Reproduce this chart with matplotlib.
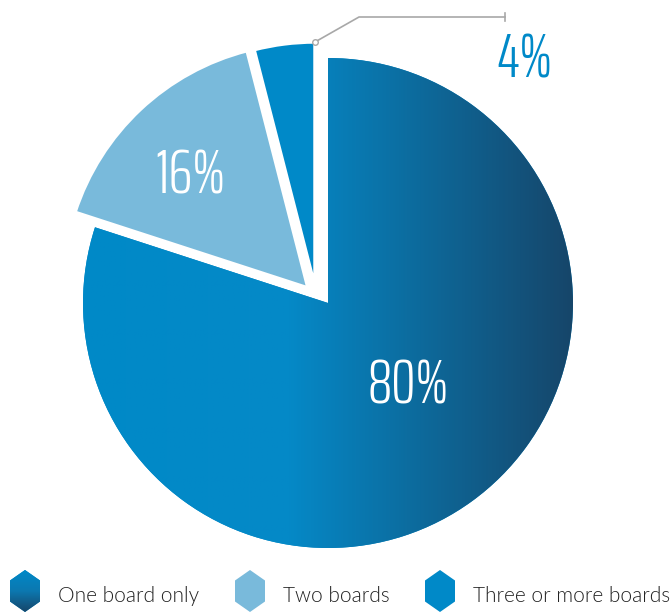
import numpy as np
import matplotlib
matplotlib.use('Agg')
import matplotlib.pyplot as plt
from matplotlib.colors import LinearSegmentedColormap
from matplotlib.patches import Polygon

# data
categories = ['One board only', 'Two boards', 'Three or more boards']
shares = [80, 16, 4]
labels = ['80%', '16%', '4%']
colors = ['#0089c8', '#79badb', '#0089c8']

W, H = 672, 612
fig = plt.figure(figsize=(W / 100, H / 100), dpi=100)
ax = fig.add_axes([0, 0, 1, 1])

cx, cy, R = 328, 309, 245
wedges, _ = ax.pie(shares, startangle=90, counterclock=False, colors=colors,
                   radius=R, center=(cx, cy),
                   wedgeprops=dict(edgecolor='white', linewidth=2.5))
wedges[0].set_linewidth(0)
# pulled-out slices
wedges[1].set_center((cx - 20, cy + 15))
wedges[2].set_center((cx - 13, cy + 16))

# horizontal gradient on the big slice
grad_cmap = LinearSegmentedColormap.from_list(
    'g', [(0, '#0089c8'), (0.42, '#0589c7'), (1, '#16466a')])
xs = np.linspace(0, 1, 400)
img = ax.imshow(np.tile(xs, (10, 1)), cmap=grad_cmap, aspect='auto',
                extent=(cx - R, cx + R, cy - R, cy + R), zorder=1)
img.set_clip_path(wedges[0])

ax.set_xlim(0, W)
ax.set_ylim(0, H)
ax.set_aspect('auto')
ax.axis('off')

fam = ['Saira ExtraCondensed', 'Barlow Condensed', 'DejaVu Sans']
big = dict(fontsize=44, family=fam, weight=300, ha='center', va='center',
           zorder=5)
ax.text(408, H - 386, labels[0], color='white', **big)
ax.text(190, H - 177, labels[1], color='white', **big)
ax.text(525, H - 60, labels[2], color='#0089c8', **big)

# leader line for the small slice
px, py = cx - 13, cy + 16 + R
ax.plot([px, 359, 505], [py, H - 17, H - 17], color='#a8a8a8', lw=1.2,
        zorder=6)
ax.plot([505, 505], [H - 13, H - 21], color='#a8a8a8', lw=1.2, zorder=6)
ax.plot([px], [py], marker='o', ms=4, mfc='white', mec='#a8a8a8', mew=1,
        zorder=7)

# legend with hexagon markers
leg_x = [25, 250, 440]
leg_y = H - 591
hw, hh = 15, 21
for i, (lx, name) in enumerate(zip(leg_x, categories)):
    verts = [(lx, leg_y + hh), (lx + hw, leg_y + hh / 2),
             (lx + hw, leg_y - hh / 2), (lx, leg_y - hh),
             (lx - hw, leg_y - hh / 2), (lx - hw, leg_y + hh / 2)]
    hexp = Polygon(verts, closed=True, facecolor=colors[i], edgecolor='none',
                   zorder=3)
    ax.add_patch(hexp)
    if i == 0:
        vg = ax.imshow(np.linspace(0, 1, 100).reshape(-1, 1),
                       cmap=LinearSegmentedColormap.from_list(
                           'v', ['#0089c8', '#0c78b0', '#16466a']),
                       aspect='auto', origin='upper',
                       extent=(lx - hw, lx + hw, leg_y - hh, leg_y + hh),
                       zorder=4)
        vg.set_clip_path(hexp)
    ax.text(lx + 33, leg_y - 5, name, fontsize=15, weight=300,
            family=['Lato', 'DejaVu Sans'], color='#222222',
            ha='left', va='center')

ax.set_xlim(0, W)
ax.set_ylim(0, H)
fig.savefig('out.png', dpi=100)
